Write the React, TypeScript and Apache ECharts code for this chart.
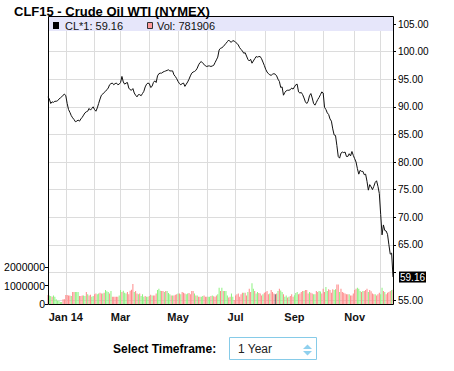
import React, { useEffect, useRef } from "react";
import * as echarts from "echarts";

const TITLE = "CLF15 - Crude Oil WTI (NYMEX)";
const SYMBOL = "CL*1";
const START_DATE = "2013-12-12";
const END_DATE = "2014-12-12";
const HOLIDAYS = ["2013-12-25", "2014-01-01", "2014-01-20", "2014-02-17", "2014-04-18", "2014-05-26", "2014-07-04", "2014-09-01", "2014-11-27"];
const MONTHS = ["Jan", "Feb", "Mar", "Apr", "May", "Jun", "Jul", "Aug", "Sep", "Oct", "Nov", "Dec"];

const PRICE_TICKS_HIDDEN = [60];

const prices = [
  91.8, 91.4, 90.6, 90.9, 90.8, 91.0, 91.0, 91.1, 91.4, 91.6,
  91.8, 92.1, 92.3, 92.0, 90.6, 89.5, 89.0, 88.4, 88.0, 87.7,
  87.3, 87.4, 87.6, 87.4, 87.8, 88.1, 88.5, 88.9, 89.1, 89.2,
  89.7, 89.4, 89.7, 90.0, 89.5, 89.2, 89.8, 90.6, 91.4, 92.1,
  92.3, 92.6, 92.8, 93.1, 93.4, 94.0, 94.2, 94.3, 94.0, 94.2,
  94.3, 94.0, 94.1, 94.4, 95.5, 94.5, 94.1, 94.3, 94.4, 93.4,
  93.1, 93.0, 93.3, 92.5, 92.1, 91.8, 92.2, 92.2, 92.0, 92.4,
  92.8, 93.6, 94.1, 94.3, 94.2, 93.5, 93.7, 94.4, 94.7, 94.4,
  95.6, 96.0, 96.1, 96.1, 96.3, 96.4, 96.5, 96.6, 96.7, 96.5,
  96.5, 96.5, 95.8, 95.5, 95.1, 94.6, 94.2, 94.0, 94.2, 94.3,
  93.7, 94.1, 94.5, 95.0, 95.6, 96.1, 96.3, 96.4, 96.6, 97.0,
  97.6, 98.0, 98.2, 97.9, 97.7, 97.4, 97.3, 97.4, 97.4, 97.3,
  97.4, 97.5, 98.0, 98.5, 99.0, 100.3, 100.6, 100.7, 100.9, 101.2,
  101.5, 101.8, 102.1, 101.8, 101.7, 102.0, 101.9, 101.7, 101.5, 101.2,
  100.7, 100.4, 100.1, 99.7, 99.8, 99.2, 98.6, 98.3, 98.6, 97.9,
  98.3, 98.7, 99.1, 99.0, 99.1, 99.1, 98.7, 98.1, 97.5, 96.8,
  96.3, 96.0, 95.8, 95.7, 95.9, 96.0, 95.9, 95.6, 95.0, 94.6,
  93.5, 93.6, 92.1, 92.6, 92.9, 93.0, 93.0, 93.1, 93.4, 93.2,
  93.6, 94.0, 94.1, 92.7, 92.5, 92.6, 92.2, 91.6, 90.9, 90.6,
  91.0, 92.0, 92.4, 91.6, 90.6, 90.3, 90.8, 91.3, 91.7, 92.2,
  92.7, 92.5, 89.9, 89.5, 88.9, 88.6, 87.8, 87.4, 86.0, 84.9,
  84.8, 83.0, 81.0, 80.7, 81.6, 81.8, 81.7, 81.8, 81.0, 81.0,
  81.5, 81.1, 81.9, 81.2, 80.6, 80.0, 78.8, 77.8, 78.5, 78.3,
  78.3, 77.7, 77.8, 76.5, 74.9, 75.9, 75.5, 75.0, 75.6, 76.3,
  76.6, 75.6, 74.3, 70.5, 66.8, 68.6, 67.6, 67.5, 66.9, 65.0,
  63.3, 63.5, 59.16,
];

// volume in thousands of contracts
const volumeK = [
  490, 470, 440, 400, 470, 400, 260, 180, 180, 110,
  110, 260, 260, 490, 490, 470, 470, 440, 660, 660,
  660, 660, 660, 440, 440, 470, 470, 440, 660, 530,
  470, 510, 400, 440, 530, 580, 530, 580, 620, 580,
  580, 620, 770, 700, 660, 580, 710, 400, 400, 400,
  400, 400, 470, 770, 660, 730, 620, 580, 660, 530,
  720, 780, 1090, 660, 710, 580, 530, 580, 440, 530,
  400, 440, 400, 400, 440, 510, 470, 470, 470, 580,
  770, 840, 720, 710, 710, 660, 710, 710, 600, 530,
  470, 470, 470, 510, 530, 580, 580, 530, 660, 620,
  580, 530, 580, 600, 530, 710, 710, 580, 470, 470,
  400, 400, 400, 440, 470, 400, 400, 400, 400, 440,
  470, 420, 400, 470, 530, 890,
  710, 890, 710, 710, 710, 470, 350, 400, 580, 400,
  220, 470, 530, 580, 400, 530, 620, 620, 620, 470,
  660, 840, 660, 1130, 840, 710, 580, 660, 600, 580,
  470, 530, 620, 660, 710, 530, 580, 770, 660, 580,
  530, 580, 710, 840, 740, 660, 530, 400, 470, 350,
  400, 440, 530, 400, 480, 600, 660, 530, 580, 660,
  710, 710, 770, 770, 580, 660, 620, 580, 530, 530,
  710, 660, 710, 680, 580, 840, 660, 930, 710, 800,
  770, 620, 800, 770, 800, 1070, 1070, 660, 840, 660,
  620, 580, 530, 530, 530, 470, 470, 580, 770, 840,
  890, 840, 710, 660, 710, 710, 770, 840, 660, 770,
  700, 580, 530, 530, 470, 530, 620, 530, 890, 710,
  660, 530, 620, 660, 710, 770, 781.906,
];

// bar colour flags: g = up, r = down, k = unchanged
const volumeDir =
  "rggrgggggg" + "grrrrrrgrr" + "gggrrrggrg" + "rrggrrggrr" + "grgggrgrrr" + "rrggrgggrr" +
  "rrrgrrgrgg" + "grggrrgrrr" + "gggrrgrggg" + "rgrrrgrgrr" + "rggrrrrgrg" + "rrggrrrggr" + "grrrgg" +
  "rgrgggrrgg" + "rrrrrrrgrr" + "grrggrggrr" + "rgrrrrgrrr" + "krgrggrggr" + "grrrgggrrr" +
  "rgrrrgrrgg" + "rrggrrrggr" + "rrrggrrgrr" + "rrrrgrrrrr" + "gggrgrrrgr" + "rrrgrrrggr" + "grrrrgr";

const TIMEFRAME_LABEL = "Select Timeframe:";
const TIMEFRAME_VALUE = "1 Year";

function buildDates(): string[] {
  const out: string[] = [];
  const [sy, sm, sd] = START_DATE.split("-").map(Number);
  const [ey, em, ed] = END_DATE.split("-").map(Number);
  let t = Date.UTC(sy, sm - 1, sd);
  const end = Date.UTC(ey, em - 1, ed);
  while (t <= end) {
    const d = new Date(t);
    const wd = d.getUTCDay();
    const s = d.toISOString().slice(0, 10);
    if (wd !== 0 && wd !== 6 && HOLIDAYS.indexOf(s) < 0) out.push(s);
    t += 86400000;
  }
  return out;
}

const FONT = "Liberation Sans, Arial, Helvetica, sans-serif";

export default function App() {
  const ref = useRef<HTMLDivElement>(null);
  useEffect(() => {
    if (!ref.current) return;
    const chart = echarts.init(ref.current, undefined, { renderer: "svg" });
    const dates = buildDates();
    const n = Math.min(dates.length, prices.length, volumeK.length);
    const cats = dates.slice(0, n);
    const isMonthStart = (i: number) => i > 0 && i < n && cats[i].slice(0, 7) !== cats[i - 1].slice(0, 7);
    const isLabel = (i: number) => isMonthStart(i) && (Number(cats[i].slice(5, 7)) - 1) % 2 === 0;

    const colorOf: Record<string, string> = { g: "#8cf27f", r: "#ff8a8a", k: "#555555" };
    const volData = volumeK.slice(0, n).map((v, i) => ({
      value: Math.round(v * 1000),
      itemStyle: { color: colorOf[volumeDir[i] || "r"] },
    }));
    const lastPrice = prices[n - 1];
    const lastVol = Math.round(volumeK[n - 1] * 1000);

    const L = 48, R = 61;
    chart.setOption({
      animation: false,
      backgroundColor: "#ffffff",
      textStyle: { fontFamily: FONT },
      grid: [
        { left: L, right: R, top: 16, bottom: 67 },
        { left: L, right: R, top: 267.4, bottom: 67 },
        { left: L, right: R, top: 24, bottom: 71 },
      ],
      xAxis: [
        {
          gridIndex: 0, type: "category", data: cats, boundaryGap: false,
          axisLine: { show: false }, axisTick: { show: false },
          axisLabel: {
            interval: (i: number) => isLabel(i),
            formatter: (v: string) => {
              const m = Number(v.slice(5, 7)) - 1;
              return m === 0 ? `${MONTHS[m]} ${v.slice(2, 4)}` : MONTHS[m];
            },
            fontWeight: "bold", fontSize: 11, color: "#111", margin: 7, fontFamily: FONT,
          },
          splitLine: { show: true, interval: (i: number) => isMonthStart(i), lineStyle: { color: "#dcdcdc", width: 1 } },
        },
        { gridIndex: 1, type: "category", data: cats, boundaryGap: false, show: false },
        { gridIndex: 2, type: "category", data: cats, boundaryGap: false, show: false },
      ],
      yAxis: [
        { gridIndex: 0, type: "value", min: 0, max: 1, show: false },
        {
          gridIndex: 1, type: "value", min: 0, max: 2000000, interval: 1000000, position: "left",
          axisLine: { show: false },
          axisTick: { show: true, length: 3, lineStyle: { color: "#000" } },
          axisLabel: { fontSize: 10.5, color: "#000", margin: 3, fontFamily: FONT, formatter: (v: number) => String(v) },
          splitLine: { show: false },
        },
        {
          gridIndex: 2, type: "value", min: 55, max: 105, interval: 5, position: "right",
          axisLine: { show: false },
          axisTick: { show: true, length: 3, lineStyle: { color: "#000" } },
          axisLabel: {
            fontSize: 10, color: "#000", margin: 5, fontFamily: FONT,
            formatter: (v: number) => (PRICE_TICKS_HIDDEN.indexOf(v) >= 0 ? "" : v.toFixed(2)),
          },
          splitLine: { show: true, lineStyle: { color: "#dcdcdc", width: 1 } },
        },
      ],
      series: [
        {
          type: "bar", xAxisIndex: 1, yAxisIndex: 1, data: volData, barWidth: 1,
          silent: true,
        },
        {
          type: "line", xAxisIndex: 2, yAxisIndex: 2, data: prices.slice(0, n),
          symbol: "none", silent: true, z: 5,
          lineStyle: { color: "#111", width: 1 },
          endLabel: {
            show: true, distance: 6,
            formatter: (p: any) => Number(Array.isArray(p.value) ? p.value[1] : p.value).toFixed(2),
            color: "#fff", backgroundColor: "#000", padding: [1, 1, 0, 1],
            fontSize: 10, fontFamily: FONT,
          },
        },
      ],
      graphic: [
        {
          type: "text", x: 14, y: 11, z: 5,
          style: { text: TITLE, font: `bold 13px ${FONT}`, fill: "#000", verticalAlign: "middle" },
        },
        {
          type: "rect", z: 1, shape: { x: 49, y: 17, width: 344, height: 14 },
          style: { fill: "#e6e6fa" },
        },
        {
          type: "rect", z: 3, shape: { x: 53, y: 22, width: 6, height: 7 },
          style: { fill: "#000" },
        },
        {
          type: "text", x: 65, y: 25.5, z: 3,
          style: { text: `${SYMBOL}: ${lastPrice.toFixed(2)}`, font: `11px ${FONT}`, fill: "#111", verticalAlign: "middle" },
        },
        {
          type: "rect", z: 3, shape: { x: 147.5, y: 22.5, width: 5, height: 6 },
          style: { fill: "#ff9a9a", stroke: "#333", lineWidth: 1 },
        },
        {
          type: "text", x: 157, y: 25.5, z: 3,
          style: { text: `Vol: ${lastVol}`, font: `11px ${FONT}`, fill: "#111", verticalAlign: "middle" },
        },
        {
          type: "rect", z: 10, shape: { x: 48.5, y: 16.5, width: 345, height: 288 },
          style: { fill: "none", stroke: "#000", lineWidth: 1 },
        },
        {
          type: "text", x: 113, y: 348.5, z: 3,
          style: { text: TIMEFRAME_LABEL, font: `bold 12px ${FONT}`, fill: "#000", verticalAlign: "middle" },
        },
        {
          type: "rect", z: 3, shape: { x: 229.5, y: 337.5, width: 87, height: 22 },
          style: { fill: "#fff", stroke: "#86cbe8", lineWidth: 1 },
        },
        {
          type: "text", x: 238, y: 348.5, z: 4,
          style: { text: TIMEFRAME_VALUE, font: `12px ${FONT}`, fill: "#222", verticalAlign: "middle" },
        },
        {
          type: "polygon", z: 4, shape: { points: [[303, 349], [307.5, 344.5], [312, 349]] },
          style: { fill: "#8fd0ee" },
        },
        {
          type: "polygon", z: 4, shape: { points: [[303, 351], [307.5, 355.5], [312, 351]] },
          style: { fill: "#8fd0ee" },
        },
      ],
    });
    return () => chart.dispose();
  }, []);
  return <div ref={ref} style={{ position: "absolute", left: 0, top: 0, width: 454, height: 371 }} />;
}
